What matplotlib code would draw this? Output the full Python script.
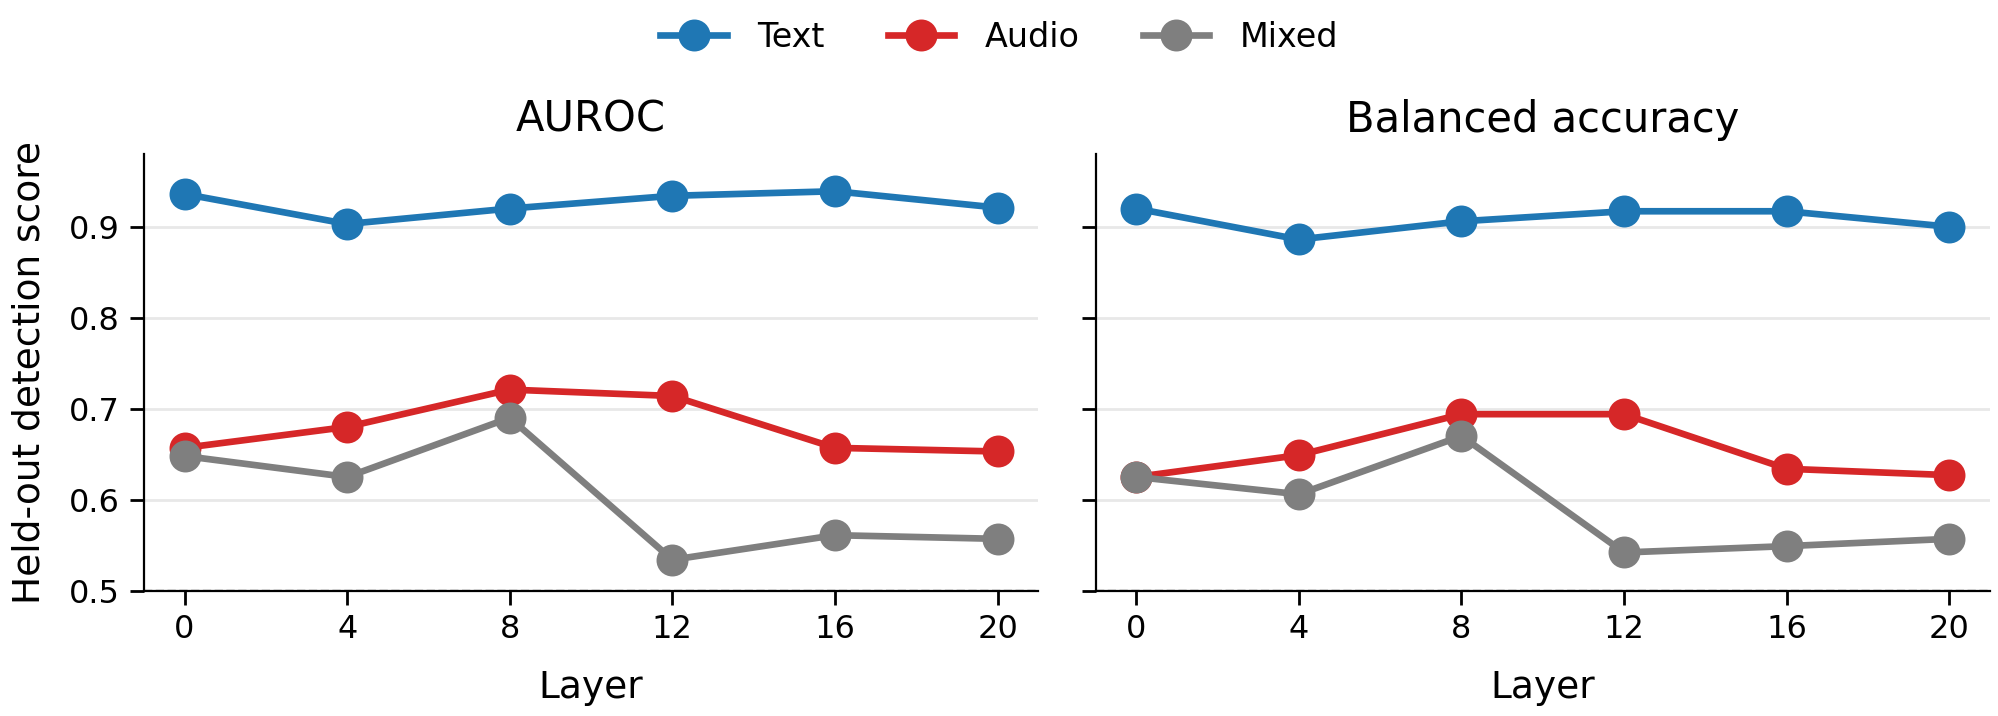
import numpy as np
import matplotlib
matplotlib.use("Agg")
import matplotlib.pyplot as plt

layers = [0, 4, 8, 12, 16, 20]

# AUROC
auroc_text = [0.936, 0.903, 0.920, 0.934, 0.939, 0.921]
auroc_audio = [0.657, 0.680, 0.721, 0.714, 0.657, 0.653]
auroc_mixed = [0.648, 0.625, 0.690, 0.534, 0.561, 0.557]

# balanced accuracy
bacc_text = [0.920, 0.886, 0.906, 0.917, 0.917, 0.900]
bacc_audio = [0.625, 0.649, 0.694, 0.694, 0.634, 0.627]
bacc_mixed = [0.625, 0.606, 0.670, 0.542, 0.549, 0.557]

series_names = ["Text", "Audio", "Mixed"]
colors = ["#1f77b4", "#d62728", "#7f7f7f"]
titles = ["AUROC", "Balanced accuracy"]

fig, axes = plt.subplots(1, 2, figsize=(9.99, 3.58), dpi=200, sharey=True)
fig.subplots_adjust(left=0.072, right=0.996, bottom=0.175, top=0.785, wspace=0.064)

panels = [[auroc_text, auroc_audio, auroc_mixed],
          [bacc_text, bacc_audio, bacc_mixed]]

for ax, data, title in zip(axes, panels, titles):
    for vals, name, c in zip(data, series_names, colors):
        ax.plot(layers, vals, "-o", color=c, lw=2.4, ms=10.5, label=name, zorder=3)
    ax.axhline(0.5, color="black", ls="--", lw=0.8, zorder=1)
    ax.set_yticks([0.5, 0.6, 0.7, 0.8, 0.9])
    ax.yaxis.grid(True, color="#e8e8e8", lw=1)
    ax.set_axisbelow(True)
    ax.set_xticks(layers)
    ax.set_xlim(-1, 21)
    ax.set_ylim(0.5, 0.98)
    ax.set_title(title, fontsize=15, pad=8)
    ax.set_xlabel("Layer", fontsize=13.5, labelpad=9)
    ax.tick_params(labelsize=11.5, length=5, width=1)
    for s in ["top", "right"]:
        ax.spines[s].set_visible(False)

axes[0].set_ylabel("Held-out detection score", fontsize=13.5, labelpad=8)

handles, labels = axes[0].get_legend_handles_labels()
fig.legend(handles, labels, loc="center", bbox_to_anchor=(0.5, 0.948), ncol=3,
           frameon=False, fontsize=12, handlelength=2.0, handletextpad=0.9,
           columnspacing=1.9)

fig.savefig("out.png", dpi=200)
